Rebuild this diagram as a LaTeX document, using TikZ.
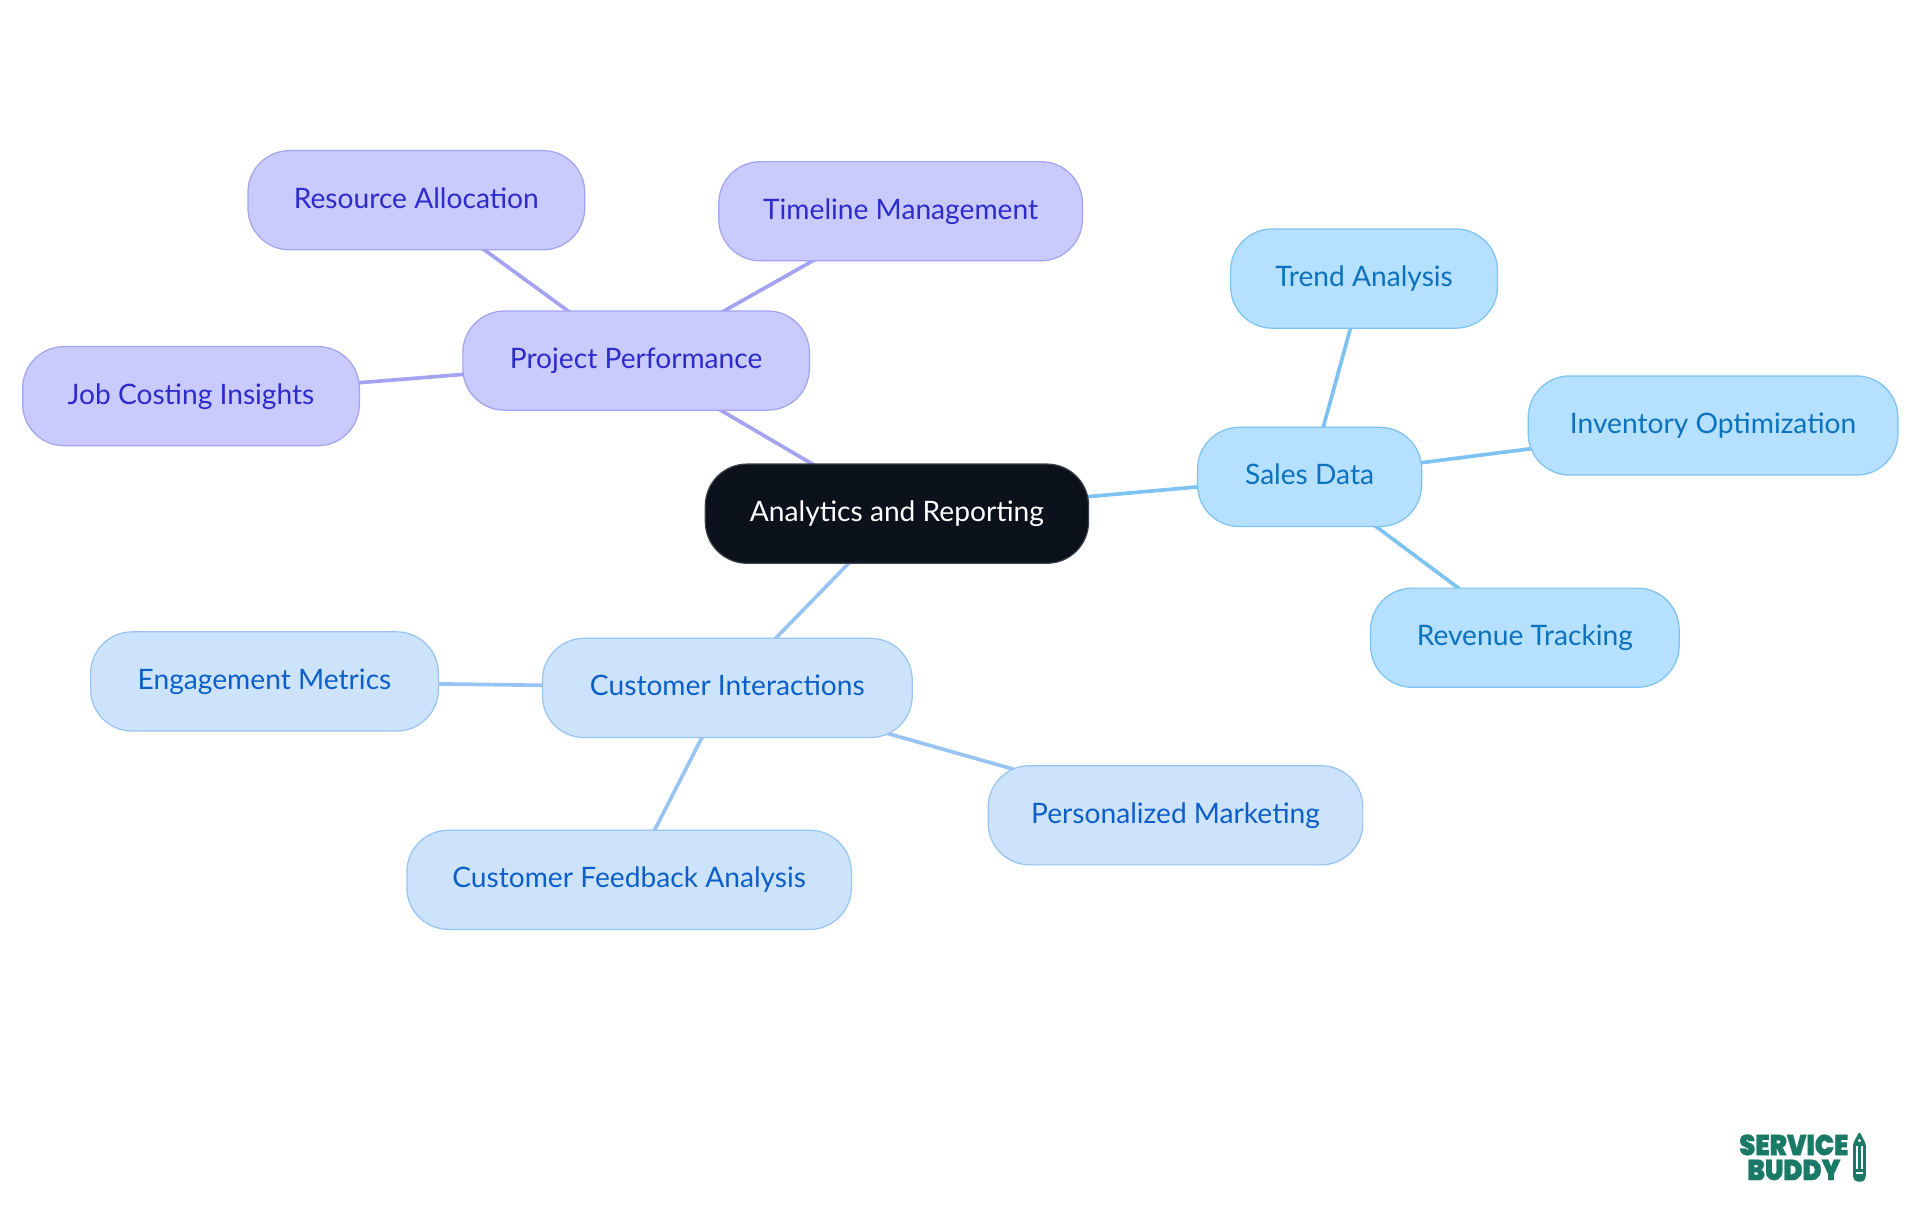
\documentclass[tikz,border=0pt]{standalone}
\usepackage{fontspec}
\usepackage{graphicx}
\setmainfont{Lato}
\newfontfamily\logofont{Poppins}[BoldFont={Poppins Black},BoldFeatures={FakeBold=0.8}]
\usetikzlibrary{backgrounds}
\definecolor{purF}{HTML}{C9CAFD}\definecolor{purS}{HTML}{A3A3F2}\definecolor{purT}{HTML}{2E2BCB}
\definecolor{skyF}{HTML}{B5E0FF}\definecolor{skyS}{HTML}{7CC2F2}\definecolor{skyT}{HTML}{0A72BE}
\definecolor{bluF}{HTML}{CDE3FC}\definecolor{bluS}{HTML}{98C4F3}\definecolor{bluT}{HTML}{0C5FC8}
\definecolor{rootF}{HTML}{0B121B}\definecolor{rootS}{HTML}{3A3F46}
\definecolor{logoG}{HTML}{1B7A67}
\tikzset{
 x=1pt,y=-1pt,
 mm/.style={draw,line width=1pt,rounded corners=34pt,inner sep=0pt,minimum height=81pt,font=\fontsize{23}{26}\selectfont},
 pur/.style={mm,fill=purF,draw=purS,text=purT},
 sky/.style={mm,fill=skyF,draw=skyS,text=skyT},
 blu/.style={mm,fill=bluF,draw=bluS,text=bluT},
 rootnode/.style={mm,fill=rootF,draw=rootS,text=white},
 purline/.style={draw=purS,line width=3pt},
 skyline/.style={draw=skyS,line width=3pt},
 bluline/.style={draw=bluS,line width=3pt},
 logotext/.style={anchor=center,inner sep=0pt,text=logoG,font=\logofont\bfseries\fontsize{21}{21}\selectfont},
}
\newcommand{\ttl}[1]{\raisebox{0pt}[20pt][7pt]{#1}}
\begin{document}
\begin{tikzpicture}
\useasboundingbox (0,0) rectangle (1568,992.25);
\node[rootnode,minimum width=313pt] (root) at (732.5,419.5) {\ttl{Analytics and Reporting}};
\node[pur,minimum width=283pt] (proj) at (519.5,294.5) {\ttl{Project Performance}};
\node[pur,minimum width=275pt] (res) at (340,163.5) {\ttl{Resource Allocation}};
\node[pur,minimum width=297pt] (time) at (735.5,172.5) {\ttl{Timeline Management}};
\node[pur,minimum width=275pt] (job) at (156,323.5) {\ttl{Job Costing Insights}};
\node[sky,minimum width=183pt] (sales) at (1069.5,389.5) {\ttl{Sales Data}};
\node[sky,minimum width=218pt] (trend) at (1114,227.5) {\ttl{Trend Analysis}};
\node[sky,minimum width=302pt] (inv) at (1399,347.5) {\ttl{Inventory Optimization}};
\node[sky,minimum width=252pt] (rev) at (1245.3,520.8) {\ttl{Revenue Tracking}};
\node[blu,minimum width=302pt] (cust) at (594,561.8) {\ttl{Customer Interactions}};
\node[blu,minimum width=284pt] (eng) at (216,556.5) {\ttl{Engagement Metrics}};
\node[blu,minimum width=363pt] (feed) at (513.8,718.5) {\ttl{Customer Feedback Analysis}};
\node[blu,minimum width=306pt] (pers) at (960,665.8) {\ttl{Personalized Marketing}};
\begin{scope}[on background layer]
\draw[purline] (root.center) -- (proj.center);
\draw[purline] (proj.center) -- (res.center);
\draw[purline] (proj.center) -- (time.center);
\draw[purline] (proj.center) -- (job.center);
\draw[skyline] (root.center) -- (sales.center);
\draw[skyline] (sales.center) -- (trend.center);
\draw[skyline] (sales.center) -- (inv.center);
\draw[skyline] (sales.center) -- (rev.center);
\draw[bluline] (root.center) -- (cust.center);
\draw[bluline] (cust.center) -- (eng.center);
\draw[bluline] (cust.center) -- (feed.center);
\draw[bluline] (cust.center) -- (pers.center);
\end{scope}
% logo
\node[logotext] (logoa) at (1465,935) {\scalebox{1}[1.12]{SERVICE}};
\node[logotext] (logob) at (1465,955.5) {\scalebox{1}[1.12]{BUDDY}};
\fill[logoG,rounded corners=1.5pt] (1513.3,934) -- (1518.5,924) -- (1523.7,934) -- (1523.7,962) -- (1521.5,965) -- (1515.5,965) -- (1513.3,962) -- cycle;
\fill[white] (1515.6,936) rectangle (1517.6,955);
\fill[white] (1519.4,936) rectangle (1521.4,955);
\fill[white] (1515.6,957.2) rectangle (1521.4,958.4);
\fill[white] (1518.5,931.5) circle (1.4pt);
\end{tikzpicture}
\end{document}
